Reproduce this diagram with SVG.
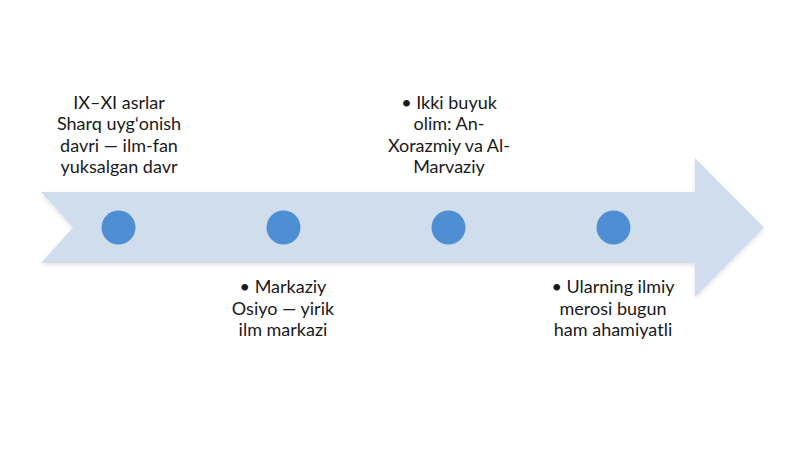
<svg xmlns="http://www.w3.org/2000/svg" width="800" height="449" viewBox="0 0 800 449">
  <defs>
    <filter id="soft" x="-5%" y="-20%" width="110%" height="140%">
      <feGaussianBlur in="SourceAlpha" stdDeviation="2"/>
      <feOffset dy="2"/>
      <feComponentTransfer><feFuncA type="linear" slope="0.12"/></feComponentTransfer>
      <feMerge><feMergeNode/><feMergeNode in="SourceGraphic"/></feMerge>
    </filter>
  </defs>
  <style>
    .lbl { font-family: Lato, Carlito, "Liberation Sans", sans-serif; font-size: 18px; fill: #1a1a1a; text-anchor: middle; }
    .dot { fill: #4e8fd4; }
  </style>
  <rect width="800" height="449" fill="#ffffff"/>
  <g id="timeline-arrow">
    <path d="M41,192 L695,192 L695,158 L764,227.5 L695,297 L695,263 L41,263 L73,227.5 Z" fill="#d0ddec" filter="url(#soft)"/>
  </g>
  <g id="node1">
    <circle class="dot" cx="118.5" cy="227.5" r="17"/>
    <text class="lbl" x="119" y="108.5">IX–XI asrlar</text>
    <text class="lbl" x="119" y="130">Sharq uygʻonish</text>
    <text class="lbl" x="119" y="151.5">davri — ilm-fan</text>
    <text class="lbl" x="119" y="173">yuksalgan davr</text>
  </g>
  <g id="node2">
    <circle class="dot" cx="283.5" cy="227.5" r="17"/>
    <text class="lbl" x="283" y="293">• Markaziy</text>
    <text class="lbl" x="283" y="314.5">Osiyo — yirik</text>
    <text class="lbl" x="283" y="336">ilm markazi</text>
  </g>
  <g id="node3">
    <circle class="dot" cx="448.5" cy="227.5" r="17"/>
    <text class="lbl" x="449" y="108.5">• Ikki buyuk</text>
    <text class="lbl" x="449" y="130">olim: An-</text>
    <text class="lbl" x="449" y="151.5">Xorazmiy va Al-</text>
    <text class="lbl" x="449" y="173">Marvaziy</text>
  </g>
  <g id="node4">
    <circle class="dot" cx="613.5" cy="227.5" r="17"/>
    <text class="lbl" x="613" y="293">• Ularning ilmiy</text>
    <text class="lbl" x="613" y="314.5">merosi bugun</text>
    <text class="lbl" x="613" y="336">ham ahamiyatli</text>
  </g>
  <g id="connectors"></g>
</svg>
